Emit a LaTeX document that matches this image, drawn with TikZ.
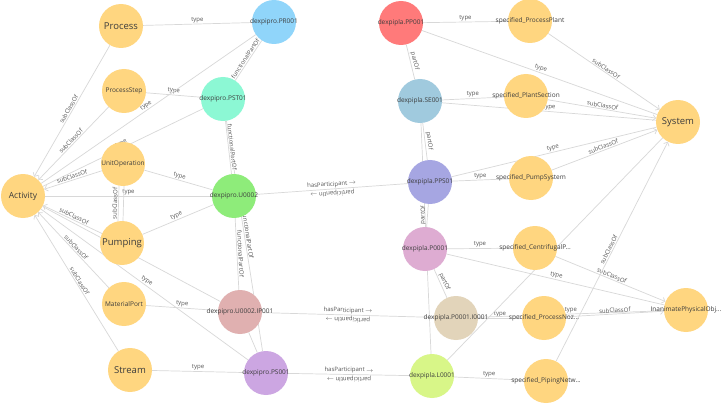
\documentclass[tikz,border=0pt]{standalone}
\usepackage{fontspec}
\setmainfont{Open Sans}
\usepackage{tikz}
\usetikzlibrary{arrows.meta, backgrounds}

\definecolor{clsyellow}{RGB}{255,214,128}
\definecolor{edgegray}{RGB}{216,216,216}
\definecolor{lblgray}{RGB}{85,85,85}
\definecolor{txtgray}{RGB}{60,60,60}
\definecolor{prblue}{RGB}{144,213,250}
\definecolor{staqua}{RGB}{140,248,212}
\definecolor{uogreen}{RGB}{142,236,122}
\definecolor{iprose}{RGB}{224,176,176}
\definecolor{pslilac}{RGB}{204,166,226}
\definecolor{ppred}{RGB}{255,122,122}
\definecolor{sesteel}{RGB}{160,202,222}
\definecolor{ppsviolet}{RGB}{166,166,226}
\definecolor{pumauve}{RGB}{222,172,210}
\definecolor{nozbeige}{RGB}{226,212,186}
\definecolor{linelime}{RGB}{216,246,136}

\begin{document}
\begin{tikzpicture}[
  x=1pt, y=-1pt,
  blob/.style={circle, minimum size=44pt, inner sep=0pt},
  smalltxt/.style={text=txtgray, font=\fontsize{6.5}{7}\selectfont, inner sep=0pt},
  bigtxt/.style={text=txtgray, font=\fontsize{9.5}{10}\selectfont, inner sep=0pt},
  cls/.style={blob, fill=clsyellow, label={[smalltxt]center:#1}},
  bigcls/.style={blob, fill=clsyellow, label={[bigtxt]center:#1}},
  inst/.style={blob, fill=#1},
  every label/.style={smalltxt},
  edge/.style={draw=edgegray, line width=0.7pt},
  sub/.style={edge, -{Straight Barb[length=3pt, width=6pt]}},
  elbl/.style={midway, sloped, above, inner sep=1pt, text=lblgray, font=\fontsize{6}{6.5}\selectfont},
  back/.style={midway, sloped, above, rotate=180, inner sep=1pt, text=lblgray, font=\fontsize{6}{6.5}\selectfont}
]
\useasboundingbox (0,0) rectangle (724,404);

% classes
\node[bigcls=Process] (process) at (121,26) {};
\node[cls=ProcessStep] (pstep) at (124,91) {};
\node[cls=UnitOperation] (uop) at (123,164) {};
\node[blob, fill=clsyellow, label={[bigtxt, font=\fontsize{8.5}{9}\selectfont]center:Activity}] (act) at (23,196) {};
\node[bigcls=Pumping] (pump) at (122,243) {};
\node[cls=MaterialPort] (mport) at (124,304) {};
\node[bigcls=Stream] (stream) at (130,370) {};
\node[bigcls=System] (sys) at (678,122) {};

% dexpipro instances
\node[inst=prblue, label=center:dexpipro.PR001] (pr) at (274,22) {};
\node[inst=staqua, label=center:dexpipro.PST01] (pst) at (223,99) {};
\node[inst=uogreen, label=center:dexpipro.U0002] (uo) at (234,196) {};
\node[inst=iprose, label=center:dexpipro.U0002.IP001] (ip) at (240,312) {};
\node[inst=pslilac, label=center:dexpipro.PS001] (ps) at (266,373) {};

% dexpipla instances
\node[inst=ppred, label=center:dexpipla.PP001] (pp) at (401,23) {};
\node[inst=sesteel, label=center:dexpipla.SE001] (se) at (420,101) {};
\node[inst=ppsviolet, label=center:dexpipla.PPS01] (pps) at (430,182) {};
\node[inst=pumauve, label=center:dexpipla.P0001] (pu) at (425,249) {};
\node[inst=nozbeige, label=center:dexpipla.P0001.I0001] (noz) at (456,318) {};
\node[inst=linelime, label=center:dexpipla.L0001] (ln) at (432,376) {};

% specified classes
\node[cls=specified\_ProcessPlant] (splant) at (530,21) {};
\node[cls=specified\_PlantSection] (ssect) at (526,96) {};
\node[cls=specified\_PumpSystem] (spump) at (531,178) {};
\node[cls=specified\_CentrifugalP...] (scent) at (535,248) {};
\node[cls=specified\_ProcessNoz...] (snoz) at (544,318) {};
\node[cls=specified\_PipingNetw...] (spipe) at (546,381) {};
\node[cls=InanimatePhysicalObj...] (inan) at (686,310) {};

\begin{scope}[on background layer]
\fill[white] (0,0) rectangle (724,404);
% left half
\draw[edge] (pr) -- (process) node[elbl] {type};
\draw[sub] (process) -- (act) node[elbl] {subClassOf};
\draw[edge] (pst) -- (pstep) node[elbl] {type};
\draw[sub] (pstep) -- (act) node[elbl] {subClassOf};
\draw[edge] (pst) -- (pr) node[elbl] {functionalPartOf};
\draw[edge] (uo) -- (pst) node[elbl] {functionalPartOf};
\draw[edge] (ps) -- (pst) node[elbl] {functionalPartOf};
\draw[edge] (ip) -- (uo) node[elbl] {functionalPartOf};
\draw[edge] (ip) -- (ps);
\draw[edge] (pr) -- (act) node[elbl] {type};
\draw[edge] (pst) -- (act) node[elbl] {type};
\draw[edge] (uo) -- (uop) node[elbl] {type};
\draw[edge] (uo) -- (act) node[elbl] {type};
\draw[edge] (uo) -- (pump) node[elbl] {type};
\draw[sub] (uop) -- (act) node[elbl] {subClassOf};
\draw[edge] ([xshift=-4pt]pump.north) -- ([xshift=-4pt]uop.south) node[elbl] {subClassOf};
\draw[edge] ([xshift=1pt]pump.north) -- ([xshift=1pt]uop.south);
\draw[sub] (pump) -- (act) node[elbl] {subClassOf};
\draw[edge] (ip) -- (mport) node[elbl] {type};
\draw[sub] (mport) -- (act) node[elbl] {subClassOf};
\draw[edge] (ip) -- (act);
\draw[edge] (ps) -- (stream) node[elbl] {type};
\draw[sub] (stream) -- (act) node[elbl] {subClassOf};
\draw[edge] (ps) -- (act) node[elbl] {type};
% participation
\draw[edge] (uo) -- (pps) node[elbl] {hasParticipant $\rightarrow$} node[back] {participantIn $\rightarrow$};
\draw[edge] (ip) -- (noz) node[elbl] {hasParticipant $\rightarrow$} node[back] {participantIn $\rightarrow$};
\draw[edge] (ps) -- (ln) node[elbl] {hasParticipant $\rightarrow$} node[back] {participantIn $\rightarrow$};
% right half
\draw[edge] (pp) -- (splant) node[elbl] {type};
\draw[edge] (pp) -- (sys) node[elbl] {type};
\draw[sub] (splant) -- (sys) node[elbl] {subClassOf};
\draw[edge] (se) -- (pp) node[elbl] {partOf};
\draw[edge] (se) -- (ssect) node[elbl] {type};
\draw[edge] (se) -- (sys) node[elbl] {type};
\draw[sub] (ssect) -- (sys) node[elbl] {subClassOf};
\draw[edge] (pps) -- (se) node[elbl] {partOf};
\draw[edge] (ln) -- (se);
\draw[edge] (pps) -- (spump) node[elbl] {type};
\draw[edge] (pps) -- (sys) node[elbl] {type};
\draw[sub] (spump) -- (sys) node[elbl] {subClassOf};
\draw[edge] (pu) -- (pps) node[elbl] {partOf};
\draw[edge] (pu) -- (scent) node[elbl] {type};
\draw[edge] (pu) -- (inan) node[elbl] {type};
\draw[sub] (scent) -- (inan) node[elbl] {subClassOf};
\draw[edge] (noz) -- (pu) node[elbl] {partOf};
\draw[edge] (noz) -- (snoz) node[elbl] {type};
\draw[edge] (noz) -- (inan) node[elbl] {type};
\draw[sub] (snoz) -- (inan) node[elbl] {subClassOf};
\draw[edge] (ln) -- (spipe) node[elbl] {type};
\draw[edge] (ln) -- (sys);
\draw[sub] (spipe) -- (sys) node[elbl] {subClassOf};
\end{scope}
\end{tikzpicture}
\end{document}
